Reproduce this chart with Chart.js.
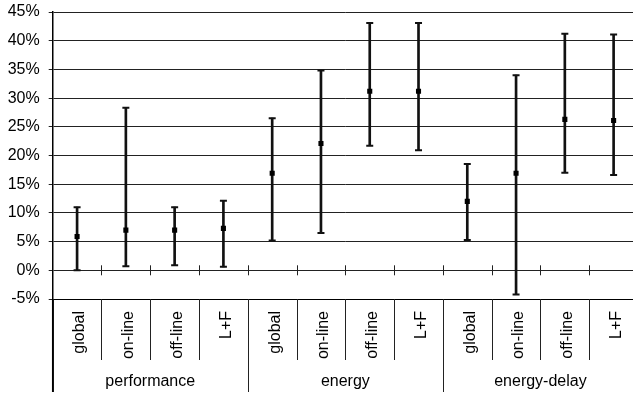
<!DOCTYPE html>
<html>
<head>
<meta charset="utf-8">
<script src="https://cdn.jsdelivr.net/npm/chart.js@4/dist/chart.umd.min.js"></script>
<style>
html,body{margin:0;padding:0;background:#fff;}
#wrap{width:633px;height:396px;overflow:hidden;position:relative;}
canvas{display:block;}
</style>
</head>
<body>
<div id="wrap"><canvas id="c" width="644" height="396"></canvas></div>
<script>
// ---- data ----
const groups = ['performance', 'energy', 'energy-delay'];
const methods = ['global', 'on-line', 'off-line', 'L+F'];
const means = [5.9, 7.0, 7.0, 7.3, 16.9, 22.1, 31.2, 31.2, 12.0, 16.9, 26.3, 26.1];
const highs = [11.0, 28.3, 11.0, 12.1, 26.5, 34.8, 43.1, 43.1, 18.5, 34.0, 41.2, 41.1];
const lows  = [0.0, 0.7, 0.9, 0.6, 5.2, 6.5, 21.7, 20.9, 5.3, -4.2, 17.0, 16.6];
const yTicks = [-5, 0, 5, 10, 15, 20, 25, 30, 35, 40, 45];

const labels = [];
groups.forEach(() => methods.forEach(m => labels.push(m)));

const FONT = '"Liberation Sans", Arial, sans-serif';
const INK = '#111';

const decor = {
  id: 'decor',
  afterDraw(chart) {
    const ctx = chart.ctx;
    const xs = chart.scales.x, ys = chart.scales.y;
    const area = chart.chartArea;
    const n = labels.length;
    const w = xs.getPixelForValue(1) - xs.getPixelForValue(0);
    const y0 = ys.getPixelForValue(0);
    ctx.save();
    ctx.lineWidth = 1;
    ctx.strokeStyle = '#222';
    for (let i = 0; i <= n; i++) {
      const x = Math.round(xs.getPixelForValue(0) - w / 2 + i * w) + 0.5;
      const isGroup = i % methods.length === 0;
      ctx.beginPath();
      ctx.moveTo(x, area.bottom);
      ctx.lineTo(x, isGroup ? 392 : 360);
      ctx.stroke();
      if (i > 0) {
        ctx.beginPath();
        ctx.moveTo(x, y0 - 5);
        ctx.lineTo(x, y0 + 5);
        ctx.stroke();
      }
    }
    ctx.fillStyle = '#000';
    ctx.font = '16px ' + FONT;
    ctx.textAlign = 'center';
    ctx.textBaseline = 'middle';
    groups.forEach((g, gi) => {
      const first = gi * methods.length;
      const last = first + methods.length - 1;
      const cx = (xs.getPixelForValue(first) + xs.getPixelForValue(last)) / 2;
      ctx.fillText(g, cx, 382);
    });
    ctx.strokeStyle = '#000'; ctx.lineWidth = 1.5;
    ctx.beginPath(); ctx.moveTo(area.left, area.bottom); ctx.lineTo(area.left, 392); ctx.stroke();
    ctx.restore();
  }
};

new Chart(document.getElementById('c'), {
  type: 'bar',
  data: {
    labels: labels,
    datasets: [
      {
        type: 'line', label: 'mean', data: means, showLine: false,
        pointStyle: 'rect', pointRadius: 3.6, pointHoverRadius: 3.6,
        pointBackgroundColor: '#000', pointBorderColor: '#000', pointBorderWidth: 0
      },
      {
        type: 'line', label: 'high', data: highs, showLine: false,
        pointStyle: 'line', pointRadius: 3.5, pointBorderWidth: 2,
        pointBorderColor: INK
      },
      {
        type: 'line', label: 'low', data: lows, showLine: false,
        pointStyle: 'line', pointRadius: 3.5, pointBorderWidth: 2,
        pointBorderColor: INK
      },
      {
        type: 'bar', label: 'range', data: lows.map((l, i) => [l, highs[i]]),
        backgroundColor: INK, barThickness: 2, grouped: false
      }
    ]
  },
  options: {
    responsive: false,
    animation: false,
    devicePixelRatio: 1,
    layout: { padding: { top: 12, right: 2.6, left: 0, bottom: 0 } },
    plugins: { legend: { display: false }, tooltip: { enabled: false } },
    scales: {
      x: {
        offset: true,
        afterFit: (s) => { s.height = 97; s.paddingLeft = 0; s.paddingRight = 0; },
        grid: { display: true, drawOnChartArea: false, drawTicks: false, color: 'rgba(0,0,0,0)' },
        border: { display: true, color: '#000', width: 1 },
        ticks: {
          autoSkip: false, minRotation: 90, maxRotation: 90, padding: 12, labelOffset: 3,
          color: '#000', font: { family: FONT, size: 16 }
        }
      },
      y: {
        min: -5, max: 45,
        afterFit: (s) => { s.width = 52.7; s.paddingTop = 0; s.paddingBottom = 0; },
        afterBuildTicks: (s) => { s.ticks = yTicks.map(v => ({ value: v })); },
        grid: { color: '#222', lineWidth: 1, tickLength: 4, drawTicks: true },
        border: { display: true, color: '#000', width: 1.5 },
        ticks: {
          padding: 9, color: '#000', font: { family: FONT, size: 16 },
          callback: (v) => v + '%'
        }
      }
    }
  },
  plugins: [decor]
});
</script>
</body>
</html>
